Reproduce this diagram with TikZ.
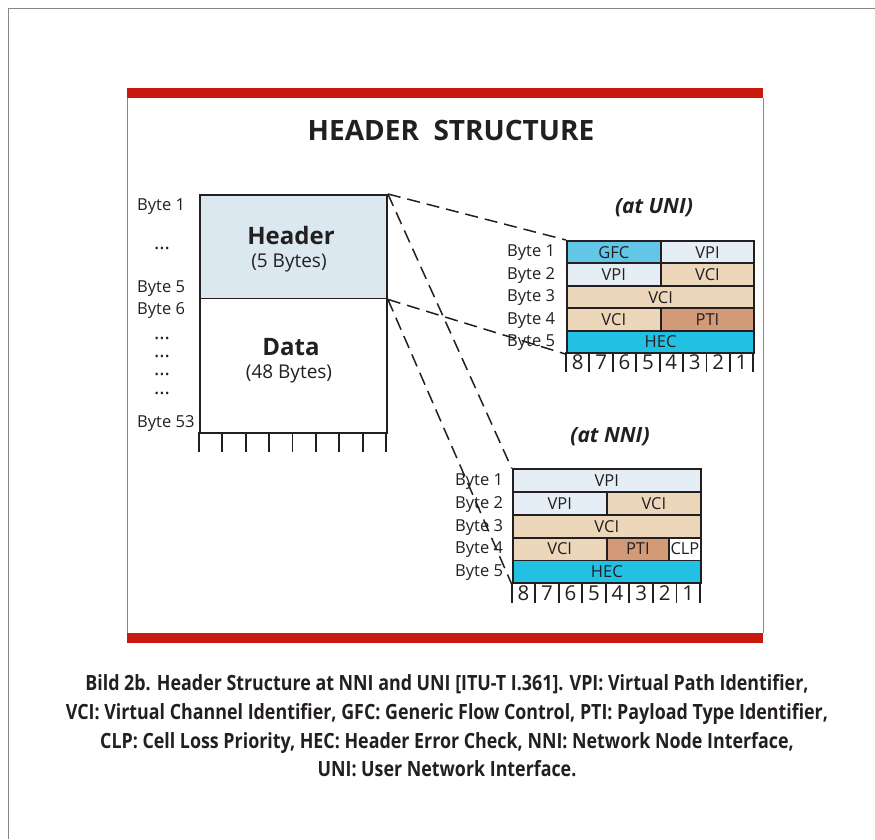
\documentclass[tikz,border=0pt]{standalone}
\usepackage{fontspec}
\setmainfont{Open Sans}
\newfontfamily\capfont[FakeStretch=0.85]{Open Sans}
\definecolor{ink}{HTML}{231F20}
\definecolor{redbar}{HTML}{C8190F}
\definecolor{framegray}{HTML}{8C8680}
\definecolor{hdrblue}{HTML}{DCE8F0}
\definecolor{gfcblue}{HTML}{62C6E6}
\definecolor{vpiblue}{HTML}{E4EEF4}
\definecolor{vcibeige}{HTML}{ECD7BA}
\definecolor{ptibrown}{HTML}{D39A78}
\definecolor{heccyan}{HTML}{22C1E4}
\tikzset{
  cell/.style={draw=ink, line width=1.9pt, anchor=north west, inner sep=0pt,
    text=ink, font=\fontsize{16.5}{16.5}\selectfont},
  bytelbl/.style={anchor=west, inner sep=0pt, text height=11.5pt, text depth=0pt,
    text=ink, font=\fontsize{16.5}{16.5}\selectfont},
  dotlbl/.style={anchor=base, inner sep=0pt, text height=3pt, text depth=0pt,
    text=ink, font=\fontsize{20}{20}\selectfont},
  digit/.style={inner sep=0pt, text height=14.5pt, text depth=0pt, text=ink,
    font=\fontsize{20.5}{20.5}\selectfont},
  conn/.style={draw=ink, line width=1.5pt, dash pattern=on 13pt off 7pt},
  tick/.style={draw=ink, line width=1.9pt}
}
\begin{document}
\begin{tikzpicture}[x=1pt, y=-1pt]
    \useasboundingbox (0,0) rectangle (875,839);
    % outer frame and red bars
    \draw[framegray, line width=0.8pt] (8,839) -- (8,8) -- (875,8);
    \fill[redbar] (127,88) rectangle (763,98);
    \fill[redbar] (127,633) rectangle (763,643);
    \draw[framegray, line width=0.8pt] (127,98) -- (127,633);
    \draw[framegray, line width=0.8pt] (763,98) -- (763,633);

    \node[text=ink, font=\bfseries\fontsize{28}{28}\selectfont] (title) at (451,130) {HEADER\ \ STRUCTURE};

    % Cell: header and data
    \node[cell, fill=hdrblue, minimum width=187pt, minimum height=103.5pt] (hdr) at (199,194) {};
    \node[cell, fill=white, minimum width=187pt, minimum height=134.5pt] (data) at (199,297.5) {};
    \foreach \i in {0,...,8}
        \draw[tick] (199+\i*23.375,432) -- ++(0,20);
    \node[text=ink, font=\bfseries\fontsize{24}{24}\selectfont] (hdrname) at (291,235) {Header};
    \node[text=ink, font=\fontsize{19}{19}\selectfont] (hdrsize) at (289,263) {(5 Bytes)};
    \node[text=ink, font=\bfseries\fontsize{24}{24}\selectfont] (dataname) at (291,347) {Data};
    \node[text=ink, font=\fontsize{19}{19}\selectfont] (datasize) at (289,374) {(48 Bytes)};

    \node[bytelbl] (c1) at (137,205) {Byte 1};
    \node[dotlbl] (cd0) at (162,249) {...};
    \node[bytelbl] (c5) at (137,287) {Byte 5};
    \node[bytelbl] (c6) at (137,309) {Byte 6};
    \node[dotlbl] (cd1) at (162,339) {...};
    \node[dotlbl] (cd2) at (162,357) {...};
    \node[dotlbl] (cd3) at (162,375) {...};
    \node[dotlbl] (cd4) at (162,394) {...};
    \node[bytelbl] (c53) at (137,422) {Byte 53};

    % Header at UNI
    \node[text=ink, font=\bfseries\itshape\fontsize{21}{21}\selectfont] (unititle) at (654,208) {(at UNI)};
    \node[cell, fill=gfcblue, minimum width=93.65pt, minimum height=22.46pt] (u1a) at (566,240) {GFC};
    \node[cell, fill=vpiblue, minimum width=93.65pt, minimum height=22.46pt] (u1b) at (659.65,240) {VPI};
    \node[cell, fill=vpiblue, minimum width=93.65pt, minimum height=22.46pt] (u2a) at (566,262.46) {VPI};
    \node[cell, fill=vcibeige, minimum width=93.65pt, minimum height=22.46pt] (u2b) at (659.65,262.46) {VCI};
    \node[cell, fill=vcibeige, minimum width=187.3pt, minimum height=22.46pt] (u3) at (566,284.92) {VCI};
    \node[cell, fill=vcibeige, minimum width=93.65pt, minimum height=22.46pt] (u4a) at (566,307.38) {VCI};
    \node[cell, fill=ptibrown, minimum width=93.65pt, minimum height=22.46pt] (u4b) at (659.65,307.38) {PTI};
    \node[cell, fill=heccyan, minimum width=187.3pt, minimum height=22.46pt] (u5) at (566,329.84) {HEC};
    \foreach \i in {0,...,8}
        \draw[tick] (566+\i*23.41,352.3) -- ++(0,20);
    \foreach \d [count=\i] in {8,7,...,1}
        \node[digit] at (566+\i*23.41-11.7,362.5) {\d};
    \node[bytelbl] (ub1) at (507,251.2) {Byte 1};
    \node[bytelbl] (ub2) at (507,273.7) {Byte 2};
    \node[bytelbl] (ub3) at (507,296.1) {Byte 3};
    \node[bytelbl] (ub4) at (507,318.6) {Byte 4};
    \node[bytelbl] (ub5) at (507,341.0) {Byte 5};

    % Header at NNI
    \node[text=ink, font=\bfseries\itshape\fontsize{21}{21}\selectfont] (nnititle) at (610,437) {(at NNI)};
    \node[cell, fill=vpiblue, minimum width=188.3pt, minimum height=22.8pt] (n1) at (511.7,468.3) {VPI};
    \node[cell, fill=vpiblue, minimum width=94.15pt, minimum height=22.8pt] (n2a) at (511.7,491.1) {VPI};
    \node[cell, fill=vcibeige, minimum width=94.15pt, minimum height=22.8pt] (n2b) at (605.85,491.1) {VCI};
    \node[cell, fill=vcibeige, minimum width=188.3pt, minimum height=22.8pt] (n3) at (511.7,513.9) {VCI};
    \node[cell, fill=vcibeige, minimum width=94.15pt, minimum height=22.8pt] (n4a) at (511.7,536.7) {VCI};
    \node[cell, fill=ptibrown, minimum width=62.15pt, minimum height=22.8pt] (n4b) at (605.85,536.7) {PTI};
    \node[cell, fill=white, minimum width=32pt, minimum height=22.8pt] (n4c) at (668,536.7) {CLP};
    \node[cell, fill=heccyan, minimum width=188.3pt, minimum height=22.8pt] (n5) at (511.7,559.5) {HEC};
    \foreach \i in {0,...,8}
        \draw[tick] (511.7+\i*23.54,582.3) -- ++(0,20.4);
    \foreach \d [count=\i] in {8,7,...,1}
        \node[digit] at (511.7+\i*23.54-11.8,592.8) {\d};
    \node[bytelbl] (nb1) at (455,479.7) {Byte 1};
    \node[bytelbl] (nb2) at (455,502.5) {Byte 2};
    \node[bytelbl] (nb3) at (455,525.3) {Byte 3};
    \node[bytelbl] (nb4) at (455,548.1) {Byte 4};
    \node[bytelbl] (nb5) at (455,570.9) {Byte 5};

    % dashed links
    \draw[conn] (hdr.north east) -- (u1a.north west);
    \draw[conn] (hdr.south east) -- (u5.south west);
    \draw[conn] (hdr.north east) -- (n1.north west);
    \draw[conn] (hdr.south east) -- (n5.south west);

    \node[text=ink, align=center, font=\capfont\bfseries\fontsize{21}{28.7}\selectfont] (caption) at (447,726)
        {Bild 2b. Header Structure at NNI and UNI [ITU-T I.361]. VPI: Virtual Path Identifier,\\
         VCI: Virtual Channel Identifier, GFC: Generic Flow Control, PTI: Payload Type Identifier,\\
         CLP: Cell Loss Priority, HEC: Header Error Check, NNI: Network Node Interface,\\
         UNI: User Network Interface.};
\end{tikzpicture}
\end{document}
